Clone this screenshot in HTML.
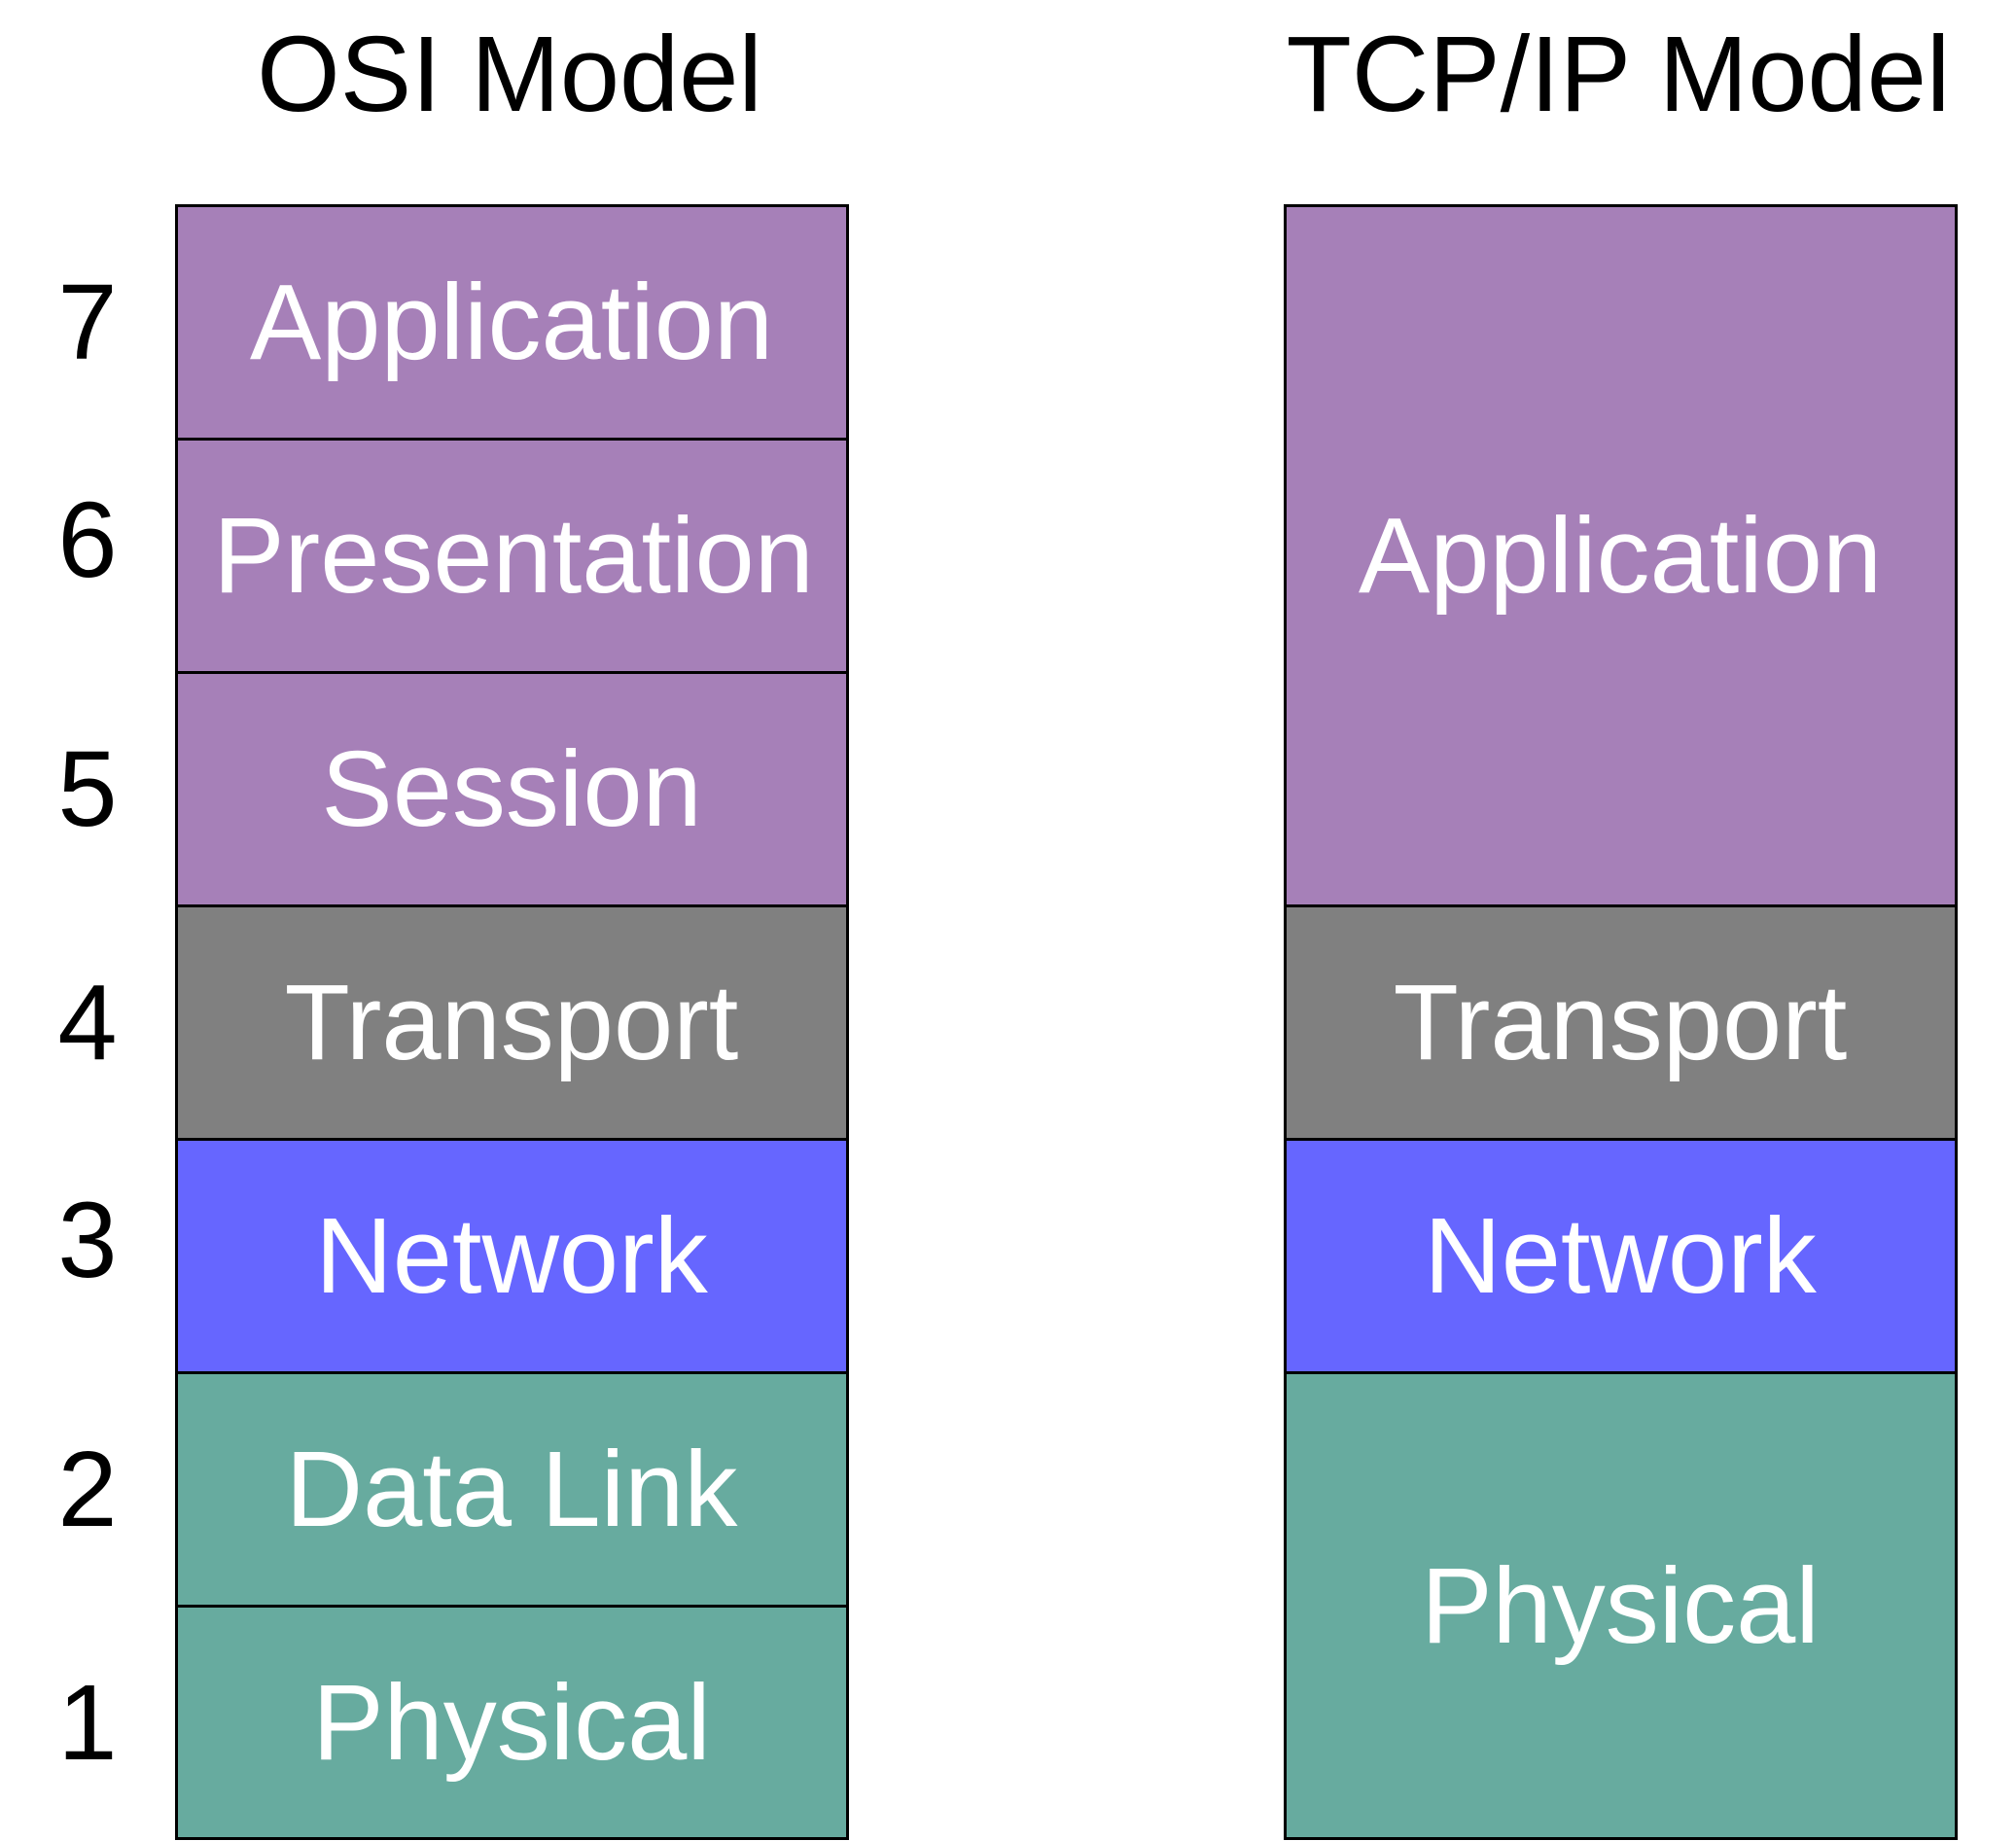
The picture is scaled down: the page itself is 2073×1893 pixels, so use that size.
<!DOCTYPE html>
<html><head><meta charset="utf-8"><style>
html,body{margin:0;padding:0;background:#fff;}
svg{display:block;}
text{font-family:"Liberation Sans",Arial,sans-serif;font-size:110px;text-anchor:middle;}
.w{fill:#fff;}
</style></head><body>
<svg width="2073" height="1893" viewBox="0 0 2073 1893" xmlns="http://www.w3.org/2000/svg">
<rect x="0" y="0" width="2073" height="1893" fill="#fff"/>
<text x="524" y="114">OSI Model</text>
<text x="1664" y="114">TCP/IP Model</text>
<g stroke="#000" stroke-width="3">
<rect x="181.5" y="211.5" width="690" height="240" fill="#A680B8"/>
<rect x="181.5" y="451.5" width="690" height="240" fill="#A680B8"/>
<rect x="181.5" y="691.5" width="690" height="240" fill="#A680B8"/>
<rect x="181.5" y="931.5" width="690" height="240" fill="#808080"/>
<rect x="181.5" y="1171.5" width="690" height="240" fill="#6666FF"/>
<rect x="181.5" y="1411.5" width="690" height="240" fill="#67AB9F"/>
<rect x="181.5" y="1651.5" width="690" height="239" fill="#67AB9F"/>
<rect x="1321.5" y="211.5" width="690" height="720" fill="#A680B8"/>
<rect x="1321.5" y="931.5" width="690" height="240" fill="#808080"/>
<rect x="1321.5" y="1171.5" width="690" height="240" fill="#6666FF"/>
<rect x="1321.5" y="1411.5" width="690" height="479" fill="#67AB9F"/>
</g>
<g>
<text x="90" y="369">7</text>
<text x="90" y="593">6</text>
<text x="90" y="849">5</text>
<text x="90" y="1089">4</text>
<text x="90" y="1313">3</text>
<text x="90" y="1569">2</text>
<text x="90" y="1809">1</text>
</g>
<g class="w">
<text class="w" x="526" y="369">Application</text>
<text class="w" x="528" y="609">Presentation</text>
<text class="w" x="526" y="849">Session</text>
<text class="w" x="526" y="1089">Transport</text>
<text class="w" x="526" y="1329">Network</text>
<text class="w" x="526" y="1569">Data Link</text>
<text class="w" x="526" y="1809">Physical</text>
<text class="w" x="1666" y="609">Application</text>
<text class="w" x="1666" y="1089">Transport</text>
<text class="w" x="1666" y="1329">Network</text>
<text class="w" x="1666" y="1689">Physical</text>
</g>
</svg>
</body></html>
